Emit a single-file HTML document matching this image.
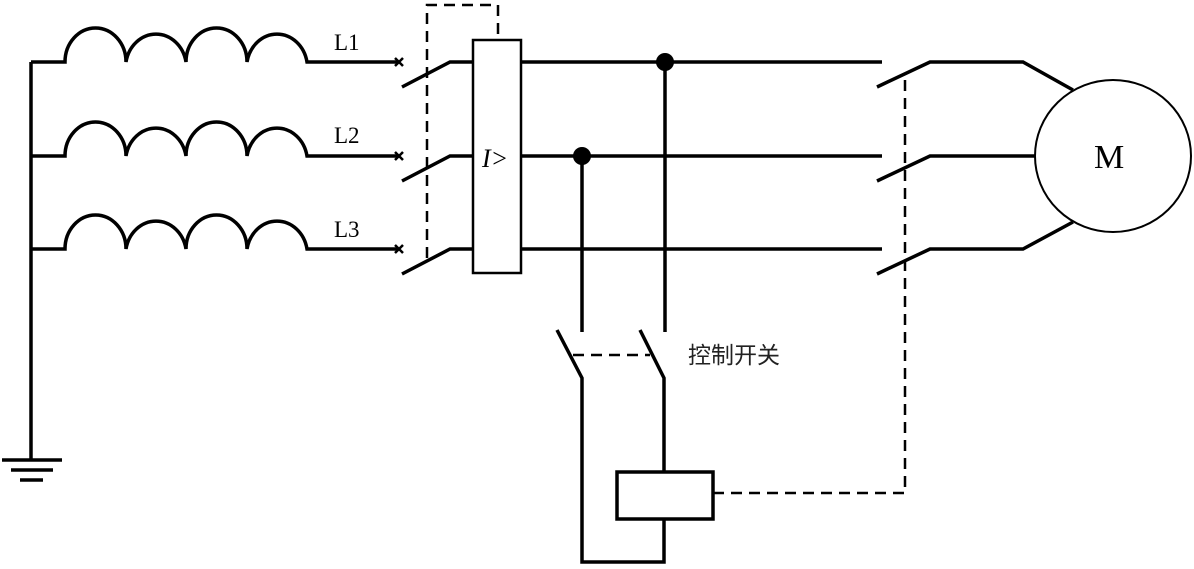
<!DOCTYPE html>
<html><head><meta charset="utf-8"><style>
html,body{margin:0;padding:0;background:#fff;}
svg{display:block;}
</style></head><body>
<svg width="1194" height="569" viewBox="0 0 1194 569" xmlns="http://www.w3.org/2000/svg">
<g fill="none" stroke="#000" stroke-width="3.5">
<line x1="31" y1="62" x2="31" y2="460"/>
<line x1="2" y1="460" x2="62" y2="460"/>
<line x1="11" y1="470" x2="53" y2="470"/>
<line x1="20" y1="480" x2="43" y2="480"/>
<path d="M31 62 H65 A30.5 34 0 0 1 126 62 A30.5 34 0 0 1 186 62 A30.5 34 0 0 1 247 62 A30.5 34 0 0 1 307 62 H398"/>
<path d="M31 156 H65 A30.5 34 0 0 1 126 156 A30.5 34 0 0 1 186 156 A30.5 34 0 0 1 247 156 A30.5 34 0 0 1 307 156 H398"/>
<path d="M31 249 H65 A30.5 34 0 0 1 126 249 A30.5 34 0 0 1 186 249 A30.5 34 0 0 1 247 249 A30.5 34 0 0 1 307 249 H398"/>
<g stroke-width="2.5">
<path d="M395 58 L403 66 M403 58 L395 66"/>
<path d="M395 152 L403 160 M403 152 L395 160"/>
<path d="M395 245 L403 253 M403 245 L395 253"/>
</g>
<path d="M402 87 L450 62 H473"/>
<path d="M402 181 L450 156 H473"/>
<path d="M402 274 L450 249 H473"/>
<rect x="473" y="40" width="48" height="233" stroke-width="2.5"/>
<line x1="521" y1="62" x2="882" y2="62"/>
<line x1="521" y1="156" x2="882" y2="156"/>
<line x1="521" y1="249" x2="882" y2="249"/>
<path d="M877 87 L930 62 H1023 L1073 90"/>
<path d="M877 181 L930 156 H1035"/>
<path d="M877 274 L930 249 H1023 L1073 222"/>
<line x1="665" y1="62" x2="665" y2="332"/>
<line x1="582" y1="156" x2="582" y2="332"/>
<path d="M557 330 L582 378 V562 H664 V520"/>
<path d="M640 330 L664 378 V472"/>
<rect x="617" y="472" width="96" height="47"/>
</g>
<ellipse cx="1113" cy="156" rx="78" ry="76" fill="none" stroke="#000" stroke-width="2"/>
<circle cx="665" cy="62" r="9" fill="#000"/>
<circle cx="582" cy="156" r="9" fill="#000"/>
<g fill="none" stroke="#000" stroke-width="2.5" stroke-dasharray="11,7">
<path d="M427 258 V5 H498 V40"/>
<path d="M905 80 V493 H713"/>
<path d="M573 355 H650"/>
</g>
<g font-family="Liberation Serif, serif" font-size="23" fill="#000">
<text x="334" y="50">L1</text>
<text x="334" y="143">L2</text>
<text x="334" y="237">L3</text>
<text x="482" y="167" font-style="italic" font-size="26">I&gt;</text>
<text x="1094" y="168" font-size="34">M</text>
</g>
<text x="688" y="363" font-family="Liberation Sans, 'Noto Sans CJK SC', sans-serif" font-size="23" fill="#222">控制开关</text>
</svg>
</body></html>
